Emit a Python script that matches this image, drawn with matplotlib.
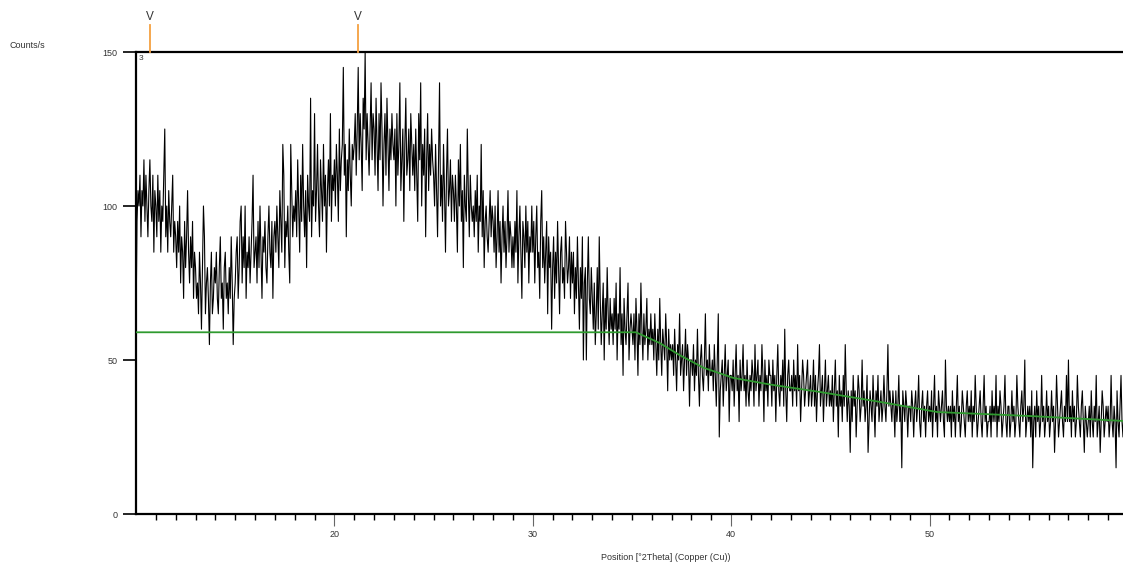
import numpy as np
import matplotlib
matplotlib.use("Agg")
import matplotlib.pyplot as plt

plt.rcParams['font.family'] = ['Liberation Sans', 'DejaVu Sans']

# ---- data (counts/s, step 0.05 deg 2theta) ----
start_2theta = 10.0
step_2theta = 0.05

counts_10_20 = [
    60, 95, 105, 100, 110, 90, 105, 100, 115, 95, 110, 100, 90, 105, 115, 100, 95, 110, 85, 105,
    100, 90, 110, 95, 105, 85, 100, 95, 110, 125, 90, 100, 85, 105, 95, 90, 100, 110, 85, 95,
    90, 80, 95, 85, 100, 75, 90, 85, 70, 95, 80, 90, 105, 85, 75, 90, 80, 95, 70, 85,
    80, 70, 75, 65, 85, 75, 60, 80, 100, 90, 65, 75, 80, 70, 55, 75, 85, 65, 70, 80,
    75, 85, 70, 65, 80, 90, 70, 75, 60, 80, 85, 70, 75, 65, 80, 70, 90, 75, 55, 70,
    75, 85, 90, 70, 80, 95, 100, 75, 90, 80, 100, 70, 85, 80, 90, 75, 85, 95, 110, 80,
    85, 90, 75, 95, 80, 100, 85, 70, 90, 85, 95, 80, 75, 90, 100, 85, 80, 95, 70, 90,
    95, 85, 100, 90, 80, 105, 95, 85, 120, 110, 80, 95, 90, 100, 85, 75, 120, 105, 90, 100,
    95, 105, 90, 115, 100, 85, 110, 95, 120, 100, 90, 105, 80, 110, 100, 95, 135, 90, 105, 100,
    130, 95, 105, 120, 100, 90, 115, 105, 95, 120, 100, 110, 85, 105, 115, 100, 130, 95, 110, 105,
]
counts_20_30 = [
    115, 100, 120, 110, 95, 125, 105, 115, 120, 145, 110, 120, 90, 115, 105, 125, 110, 100, 120, 115,
    120, 130, 110, 125, 145, 115, 130, 120, 105, 135, 125, 150, 115, 130, 120, 110, 125, 140, 115, 130,
    125, 110, 135, 120, 105, 130, 115, 140, 125, 100, 120, 130, 110, 135, 120, 105, 125, 115, 130, 120,
    115, 125, 100, 130, 110, 120, 140, 105, 115, 125, 95, 120, 135, 110, 115, 125, 105, 130, 120, 110,
    120, 105, 125, 110, 95, 130, 115, 140, 100, 120, 110, 125, 90, 115, 130, 105, 120, 110, 125, 115,
    110, 100, 120, 105, 90, 115, 140, 100, 110, 95, 120, 105, 85, 110, 125, 100, 105, 115, 95, 110,
    105, 95, 110, 100, 85, 115, 100, 120, 95, 105, 80, 110, 100, 95, 125, 105, 90, 110, 100, 95,
    100, 90, 105, 95, 110, 85, 100, 95, 120, 90, 105, 80, 95, 100, 90, 85, 95, 105, 90, 100,
    95, 85, 100, 80, 90, 105, 85, 95, 75, 90, 100, 85, 95, 80, 90, 105, 85, 95, 90, 80,
    90, 80, 95, 85, 105, 75, 90, 100, 85, 70, 95, 90, 80, 100, 85, 95, 75, 90, 85, 100,
]
counts_30_40 = [
    85, 95, 75, 90, 100, 80, 85, 70, 95, 105, 80, 90, 75, 85, 95, 65, 90, 80, 85, 60,
    80, 90, 70, 85, 75, 95, 80, 65, 85, 90, 75, 80, 70, 95, 85, 75, 80, 90, 70, 85,
    75, 85, 65, 80, 70, 90, 75, 60, 80, 70, 90, 50, 75, 80, 50, 75, 90, 70, 65, 80,
    70, 60, 75, 55, 65, 80, 60, 90, 70, 55, 65, 75, 50, 70, 60, 80, 65, 55, 70, 60,
    65, 55, 70, 60, 75, 50, 65, 60, 80, 55, 65, 45, 70, 60, 55, 65, 75, 50, 60, 65,
    60, 55, 65, 50, 70, 60, 45, 65, 55, 75, 60, 50, 65, 55, 60, 70, 50, 60, 55, 65,
    55, 60, 50, 65, 55, 45, 60, 50, 70, 55, 45, 60, 55, 50, 65, 55, 40, 60, 50, 55,
    50, 55, 45, 60, 50, 40, 55, 50, 65, 45, 50, 55, 40, 50, 60, 45, 55, 50, 35, 50,
    50, 45, 55, 40, 50, 45, 60, 45, 35, 50, 55, 45, 40, 50, 65, 45, 50, 40, 55, 45,
    45, 50, 40, 55, 45, 35, 50, 65, 25, 40, 45, 50, 35, 45, 55, 40, 45, 50, 30, 45,
]
counts_40_50 = [
    45, 40, 50, 35, 45, 55, 40, 45, 30, 50, 40, 45, 55, 40, 45, 35, 50, 40, 35, 45,
    40, 50, 45, 35, 55, 40, 45, 50, 35, 45, 40, 55, 45, 30, 50, 40, 45, 35, 50, 45,
    45, 35, 50, 40, 45, 30, 45, 55, 40, 35, 45, 40, 50, 35, 60, 40, 30, 45, 50, 40,
    40, 45, 35, 50, 40, 45, 35, 55, 40, 45, 30, 40, 50, 45, 35, 40, 45, 50, 35, 40,
    45, 35, 40, 50, 35, 45, 30, 40, 45, 55, 35, 40, 45, 30, 40, 50, 35, 40, 45, 35,
    40, 35, 45, 30, 40, 50, 35, 40, 25, 45, 35, 40, 30, 45, 35, 55, 40, 30, 40, 35,
    20, 40, 30, 45, 35, 40, 25, 35, 45, 40, 30, 35, 50, 35, 40, 30, 35, 45, 20, 30,
    40, 35, 30, 45, 35, 25, 40, 35, 45, 30, 35, 40, 30, 35, 45, 35, 30, 40, 55, 35,
    40, 35, 30, 40, 35, 25, 40, 30, 35, 45, 30, 35, 15, 40, 35, 30, 40, 35, 25, 35,
    35, 30, 40, 35, 25, 35, 40, 30, 35, 45, 30, 25, 35, 40, 30, 35, 25, 35, 40, 30,
]
counts_50_60 = [
    35, 30, 40, 25, 35, 45, 30, 35, 25, 40, 35, 30, 35, 40, 30, 25, 50, 35, 30, 35,
    30, 35, 25, 40, 30, 35, 25, 35, 45, 30, 35, 25, 30, 40, 35, 30, 25, 35, 40, 30,
    35, 30, 40, 25, 35, 30, 45, 35, 25, 30, 35, 40, 30, 25, 35, 45, 30, 35, 25, 30,
    30, 35, 25, 40, 30, 35, 30, 45, 25, 35, 30, 40, 35, 25, 30, 35, 45, 30, 25, 35,
    35, 25, 30, 40, 30, 35, 25, 30, 45, 35, 30, 25, 35, 40, 30, 35, 50, 25, 30, 35,
    30, 35, 25, 40, 15, 30, 35, 25, 40, 30, 35, 25, 30, 45, 30, 35, 25, 30, 40, 30,
    35, 25, 30, 40, 30, 35, 20, 30, 45, 35, 25, 30, 35, 40, 30, 25, 35, 30, 45, 30,
    50, 30, 35, 25, 40, 30, 35, 25, 30, 45, 35, 30, 25, 35, 40, 30, 20, 35, 30, 25,
    30, 35, 25, 40, 30, 25, 35, 30, 45, 25, 30, 35, 20, 30, 40, 35, 25, 30, 35, 30,
    35, 25, 30, 45, 30, 25, 35, 30, 15, 40, 30, 25, 35, 45, 30, 25, 35,
]

# background (green) line
bg_2theta = [10.0, 35.2, 36.4, 37.4, 38.6, 40.1, 42.0, 44.5, 47.5, 50.4, 55.1, 59.8]
bg_counts = [59.0, 59.0, 55.5, 51.6, 47.5, 44.2, 42.0, 39.6, 36.4, 33.1, 31.8, 30.2]

# reference peak markers
peak_2theta = [10.7, 21.2]

x_ticks = [20, 30, 40, 50]
y_ticks = [0, 50, 100, 150]

# ---- figure ----
counts = np.array(counts_10_20 + counts_20_30 + counts_30_40 + counts_40_50 + counts_50_60, dtype=float)
two_theta = start_2theta + step_2theta * np.arange(len(counts))

W, H = 1123, 570
fig = plt.figure(figsize=(W / 100, H / 100), dpi=100)
ax = fig.add_axes([136 / W, 56 / H, 987 / W, 462 / H])

ax.plot(two_theta, counts, color='black', lw=0.8, zorder=2)
ax.plot(bg_2theta, bg_counts, color='#2f9a2f', lw=1.3, zorder=3)

ax.set_xlim(10, 59.75)
ax.set_ylim(0, 150)

for s in ['left', 'bottom', 'top']:
    ax.spines[s].set_linewidth(1.6)
    ax.spines[s].set_color('black')
ax.spines['right'].set_visible(False)

ax.set_xticks(x_ticks)
ax.set_xticklabels([str(v) for v in x_ticks], fontsize=6.5, color='#333333')
ax.set_xticks(np.arange(11, 60, 1), minor=True)
ax.tick_params(axis='x', which='major', direction='out', length=8.6, width=0.8,
               color='#666666', pad=3)
ax.tick_params(axis='x', which='minor', direction='out', length=4.2, width=1.0, color='black')

ax.set_yticks(y_ticks)
ax.set_yticklabels([str(v) for v in y_ticks], fontsize=6.5, color='#333333')
ax.tick_params(axis='y', which='major', direction='out', length=9.5, width=1.2,
               color='black', pad=4)

# peak markers above axes
for p in peak_2theta:
    ax.plot([p, p], [150, 158.8], color='#f5a040', lw=1.3, clip_on=False, zorder=4)
    ax.text(p, 161.5, 'V', ha='center', va='center', fontsize=8.5, color='#333333',
            clip_on=False)

fig.text(10 / W, 1 - 46 / H, 'Counts/s', fontsize=6.5, color='#333333', va='center', ha='left')
fig.text(139 / W, 1 - 58 / H, '3', fontsize=6, color='#333333', va='center', ha='left')
fig.text(666 / W, 1 - 558 / H, 'Position [°2Theta] (Copper (Cu))', fontsize=6.5,
         color='#333333', va='center', ha='center')

fig.savefig('out.png', dpi=100)
